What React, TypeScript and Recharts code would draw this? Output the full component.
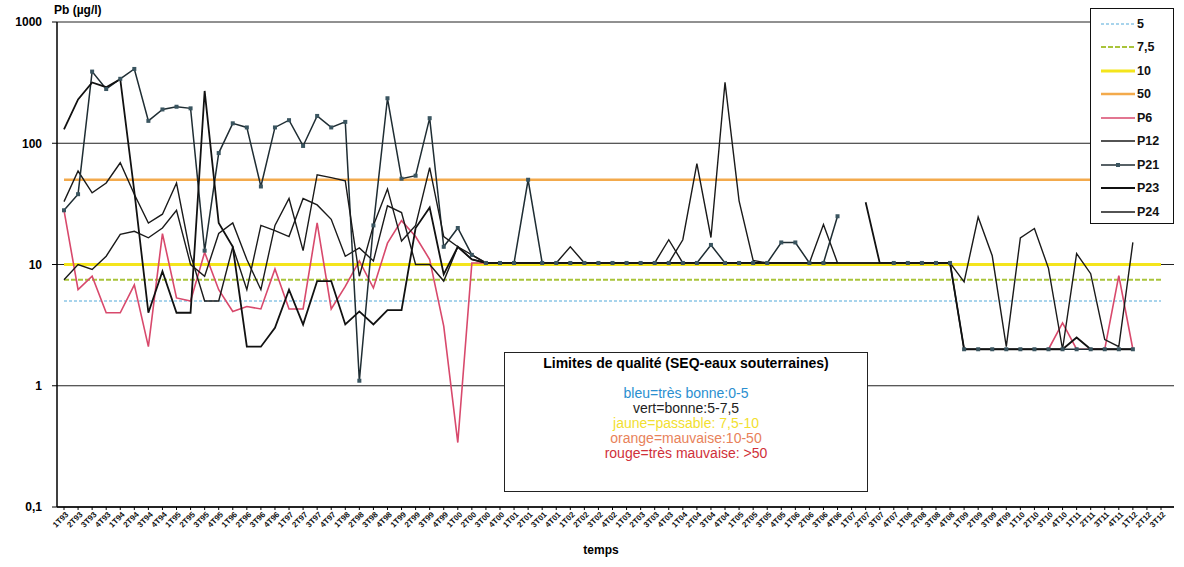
import { CartesianGrid, Line, LineChart, XAxis, YAxis } from 'recharts'

const categories = [
  '1T93', '2T93', '3T93', '4T93', '1T94', '2T94', '3T94', '4T94', '1T95', '2T95', '3T95', '4T95',
  '1T96', '2T96', '3T96', '4T96', '1T97', '2T97', '3T97', '4T97', '1T98', '2T98', '3T98', '4T98',
  '1T99', '2T99', '3T99', '4T99', '1T00', '2T00', '3T00', '4T00', '1T01', '2T01', '3T01', '4T01',
  '1T02', '2T02', '3T02', '4T02', '1T03', '2T03', '3T03', '4T03', '1T04', '2T04', '3T04', '4T04',
  '1T05', '2T05', '3T05', '4T05', '1T06', '2T06', '3T06', '4T06', '1T07', '2T07', '3T07', '4T07',
  '1T08', '2T08', '3T08', '4T08', '1T09', '2T09', '3T09', '4T09', '1T10', '2T10', '3T10', '4T10',
  '1T11', '2T11', '3T11', '4T11', '1T12', '2T12', '3T12',
]

const _ = null

const p6 = [
  28, 6.2, 8, 4, 4, 6.8, 2.1, 18, 5.3, 5, 12.6, 6.2,
  4.1, 4.5, 4.3, 9.2, 4.3, 4.3, 22, 4.3, 6.6, 10.7, 6.4, 15,
  23, 17, 11, 3.1, 0.34, 10.3, 10.3, _, _, _, _, _,
  _, _, _, _, _, _, _, _, _, _, _, _,
  _, _, _, _, _, _, _, _, _, _, _, _,
  _, _, _, _, _, _, _, _, _, _, 2, 3.3,
  2, 2, 2, 8.1, 2, _, _,
]

const p12 = [
  33, 59, 39, 47, 69, 38, 22, 26, 47, 12, 5, 5,
  14, 6.2, 21, 19, 17, 35, 31, 23.6, 11.7, 13.7, 10.7, 30.5,
  26.8, 10, 10, 7.3, 14, 11, 10.3, 10.3, 10.3, 10.3, 10.3, 10.3,
  10.3, 10.3, 10.3, 10.3, 10.3, 10.3, 10.3, 16, 10.3, 10.3, 10.3, 10.3,
  10.3, 10.3, 10.3, 10.3, 10.3, 10.3, 21.4, 10.3, 10.3, 10.3, 10.3, 10.3,
  10.3, 10.3, 10.3, 10.3, _, _, _, _, _, _, _, _,
  _, _, _, _, _, _, _,
]

const p21 = [
  28, 38, 390, 280, 340, 410, 153, 190, 200, 194, 13, 83,
  146, 135, 44, 135, 155, 95, 168, 135, 150, 1.1, 21, 235,
  51, 54, 161, 14, 20, 12, 10.3, 10.3, 10.3, 50, 10.3, 10.3,
  10.3, 10.3, 10.3, 10.3, 10.3, 10.3, 10.3, 10.3, 10.3, 10.3, 14.5, 10.3,
  10.3, 10.3, 10.3, 15.2, 15.2, 10.3, 10.3, 25, _, _, _, 10.3,
  10.3, 10.3, 10.3, 10.3, 2, 2, 2, 2, 2, 2, 2, 2,
  2, 2, 2, 2, 2, _, _,
]

const p23 = [
  130, 230, 317, 290, 338, 40, 4, 8.8, 4, 4, 270, 22,
  14, 2.1, 2.1, 3, 6.2, 3.2, 7.3, 7.3, 3.2, 4.1, 3.2, 4.2,
  4.2, 20, 29.5, 8.3, 14, 11, 10.3, 10.3, 10.3, 10.3, 10.3, 10.3,
  10.3, 10.3, 10.3, 10.3, 10.3, 10.3, 10.3, 10.3, 10.3, 10.3, 10.3, 10.3,
  10.3, 10.3, 10.3, 10.3, 10.3, 10.3, 10.3, 10.3, _, 32.6, 10.3, 10.3,
  10.3, 10.3, 10.3, 10.3, 2, 2, 2, 2, 2, 2, 2, 2,
  2.5, 2, 2, 2, 2, _, _,
]

const p24 = [
  7.5, 10, 9.1, 11.7, 17.7, 18.8, 16.6, 20, 28, 10, 8, 18,
  22, 11, 6.2, 21, 35, 13, 55, 52, 49, 8, 21, 42,
  15.6, 21, 63, 17, 14, 12, 10.3, 10.3, 10.3, 10.3, 10.3, 10.3,
  14, 10.3, 10.3, 10.3, 10.3, 10.3, 10.3, 10.3, 16, 68, 16.7, 318,
  33.5, 10.8, 10.3, 10.3, 10.3, 10.3, 10.3, 10.3, 10.3, 10.3, 10.3, 10.3,
  10.3, 10.3, 10.3, 10.3, 7.2, 24.6, 11.8, 2.1, 16.6, 19.8, 9.3, 2,
  12.3, 8.4, 2.4, 2.1, 15.2, _, _,
]

const limits = [
  { key: 's5', label: '5', value: 5, color: '#8cc6e6', width: 1.5, dash: '3 2' },
  { key: 's75', label: '7,5', value: 7.5, color: '#a9c43a', width: 2, dash: '5 2' },
  { key: 's10', label: '10', value: 10, color: '#f4e51c', width: 3, dash: undefined },
  { key: 's50', label: '50', value: 50, color: '#f3aa4c', width: 2.5, dash: undefined },
]

const stations = [
  { key: 'P6', values: p6, color: '#d8496c', width: 1.6, marker: false },
  { key: 'P12', values: p12, color: '#1a1a1a', width: 1.4, marker: false },
  { key: 'P21', values: p21, color: '#1f2d33', width: 1.5, marker: true },
  { key: 'P23', values: p23, color: '#111', width: 1.8, marker: false },
  { key: 'P24', values: p24, color: '#1a1a1a', width: 1.4, marker: false },
]

const yTicks = [0.1, 1, 10, 100, 1000]

const rows = categories.map((t, i) => {
  const row: Record<string, any> = { t }
  limits.forEach((l) => (row[l.key] = l.value))
  stations.forEach((s) => (row[s.key] = s.values[i]))
  return row
})

const font = 'Arial, "Liberation Sans", sans-serif'

const XTick = ({ x, y, payload }: any) => (
  <text
    x={x + 5}
    y={y + 3}
    transform={`rotate(-45 ${x + 5} ${y + 3})`}
    textAnchor="end"
    fontSize={8}
    fontWeight={700}
    fontFamily={font}
    fill="#111"
  >
    {payload.value}
  </text>
)

const SquareDot = (props: any) => {
  const { cx, cy, value, index } = props
  if (value == null || cx == null || cy == null) return <g key={`d${index}`} />
  return <rect key={`d${index}`} x={cx - 2} y={cy - 2} width={4} height={4} fill="#3a5560" />
}

const legendItems = [
  ...limits.map((l) => ({ label: l.label, color: l.color, width: l.width, dash: l.dash, marker: false })),
  ...stations.map((s) => ({ label: s.key, color: s.color, width: s.width, dash: undefined, marker: s.marker })),
]

const App = () => {
  return (
    <div style={{ position: 'absolute', left: 0, top: 0, width: 1184, height: 567, background: '#fff', fontFamily: font }}>
      <LineChart width={1184} height={567} data={rows} margin={{ top: 22, right: 10, left: 0, bottom: 0 }}>
        <CartesianGrid vertical={false} stroke="#222" strokeWidth={1} />
        <XAxis
          dataKey="t"
          interval={0}
          height={60}
          padding={{ left: 7, right: 13 }}
          tick={<XTick />}
          tickSize={3}
          tickLine={{ stroke: '#000' }}
          axisLine={{ stroke: '#000', strokeWidth: 1.5 }}
        />
        <YAxis
          scale="log"
          domain={[0.1, 1000]}
          ticks={yTicks}
          allowDataOverflow
          width={57}
          tickSize={5}
          tickMargin={10}
          tickFormatter={(v) => String(v).replace('.', ',')}
          tick={{ fontSize: 12, fontWeight: 700, fill: '#000', fontFamily: font }}
          axisLine={{ stroke: '#000', strokeWidth: 1.5 }}
          tickLine={{ stroke: '#000' }}
        />
        {limits.map((l) => (
          <Line
            key={l.key}
            dataKey={l.key}
            stroke={l.color}
            strokeWidth={l.width}
            strokeDasharray={l.dash}
            dot={false}
            activeDot={false}
            isAnimationActive={false}
          />
        ))}
        {stations.map((s) => (
          <Line
            key={s.key}
            dataKey={s.key}
            stroke={s.color}
            strokeWidth={s.width}
            dot={s.marker ? SquareDot : false}
            activeDot={false}
            isAnimationActive={false}
          />
        ))}
      </LineChart>

      <div style={{ position: 'absolute', left: 54, top: 3, fontSize: 12, fontWeight: 700 }}>Pb (µg/l)</div>
      <div style={{ position: 'absolute', left: 0, width: 1184, top: 543, textAlign: 'center', fontSize: 12, fontWeight: 700 }}>
        <span style={{ position: 'relative', left: 9 }}>temps</span>
      </div>

      <div
        style={{
          position: 'absolute',
          left: 1090,
          top: 8,
          width: 84,
          height: 216,
          border: '1px solid #111',
          background: '#fff',
          boxSizing: 'border-box',
          paddingTop: 3,
        }}
      >
        {legendItems.map((it) => (
          <div key={it.label} style={{ display: 'flex', alignItems: 'center', height: 23.5 }}>
            <svg width={46} height={10}>
              <line x1={10} y1={5} x2={44} y2={5} stroke={it.color} strokeWidth={it.width} strokeDasharray={it.dash} />
              {it.marker && <rect x={25} y={3} width={4} height={4} fill="#3a5560" />}
            </svg>
            <span style={{ fontSize: 12.5, fontWeight: 700, color: '#111' }}>{it.label}</span>
          </div>
        ))}
      </div>

      <div
        style={{
          position: 'absolute',
          left: 504,
          top: 352,
          width: 364,
          height: 140,
          border: '1.5px solid #222',
          background: '#fff',
          boxSizing: 'border-box',
          textAlign: 'center',
          fontSize: 14,
          lineHeight: '15px',
        }}
      >
        <div style={{ fontWeight: 700, marginTop: 3 }}>Limites de qualité (SEQ-eaux souterraines)</div>
        <div style={{ marginTop: 15, color: '#2a8fd0' }}>bleu=très bonne:0-5</div>
        <div style={{ color: '#222' }}>vert=bonne:5-7,5</div>
        <div style={{ color: '#f2e030' }}>jaune=passable: 7,5-10</div>
        <div style={{ color: '#e8825a' }}>orange=mauvaise:10-50</div>
        <div style={{ color: '#d0303a' }}>rouge=très mauvaise: &gt;50</div>
      </div>
    </div>
  )
}

export default App
